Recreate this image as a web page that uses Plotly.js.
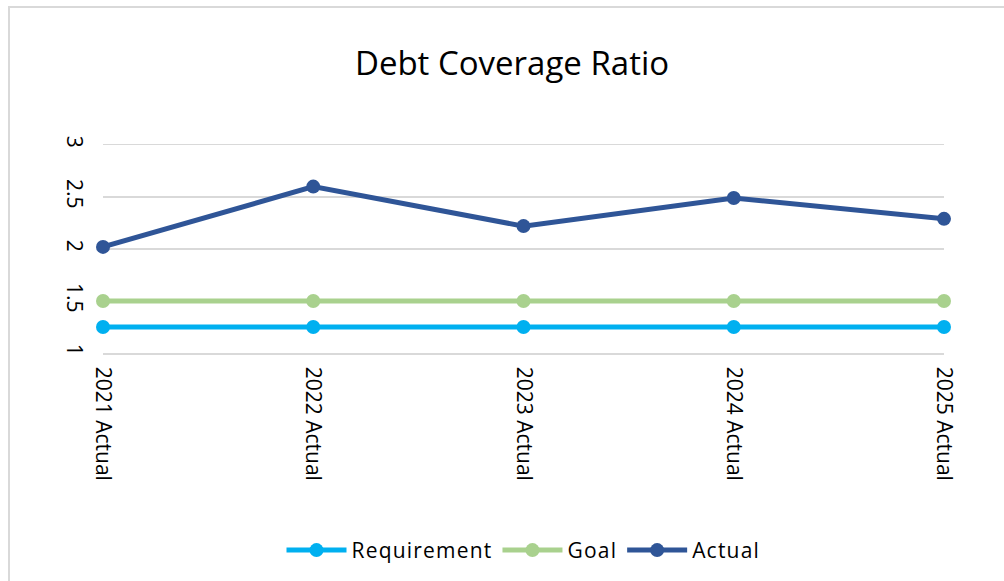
<!DOCTYPE html>
<html>
<head>
<meta charset="utf-8">
<script src="https://cdn.plot.ly/plotly-3.0.1.min.js"></script>
<style>
html,body{margin:0;padding:0;background:#fff;}
#wrap{position:relative;width:1004px;height:581px;overflow:hidden;}
#chart{position:absolute;left:0;top:0;width:1004px;height:581px;}
#frame{position:absolute;left:8px;top:6px;width:1010px;height:600px;border-left:2px solid #d9d9d9;border-top:2px solid #d9d9d9;pointer-events:none;}
.legendtext{letter-spacing:1.2px;}
</style>
</head>
<body>
<div id="wrap"><div id="chart"></div><div id="frame"></div></div>
<script>
var categories = ["2021 Actual", "2022 Actual", "2023 Actual", "2024 Actual", "2025 Actual"];
var requirement = [1.25, 1.25, 1.25, 1.25, 1.25];
var goal = [1.5, 1.5, 1.5, 1.5, 1.5];
var actual = [2.02, 2.6, 2.22, 2.49, 2.29];
var yTicks = [1, 1.5, 2, 2.5, 3];

function tr(name, y, color) {
  return {
    x: categories, y: y, name: name, type: 'scatter', mode: 'lines+markers',
    line: {color: color, width: 5},
    marker: {color: color, size: 14},
    cliponaxis: false
  };
}
var data = [
  tr('Requirement', requirement, '#00B0F0'),
  tr('Goal', goal, '#A9D18E'),
  tr('Actual', actual, '#2F5597')
];
var layout = {
  width: 1004, height: 581,
  margin: {l: 103, r: 60, t: 145, b: 227},
  paper_bgcolor: '#fff', plot_bgcolor: '#fff',
  font: {family: 'Open Sans, sans-serif', color: '#000'},
  title: {text: 'Debt Coverage Ratio', font: {size: 33, color: '#000'}, x: 0.51, xanchor: 'center', y: 0.89, yanchor: 'middle'},
  xaxis: {
    type: 'category', range: [0, 4], tickangle: 90, showgrid: false, zeroline: false,
    showline: true, mirror: true, linecolor: '#d9d9d9', linewidth: 1.5,
    ticks: '', ticklabelstandoff: 8, tickfont: {size: 21, color: '#000'}, fixedrange: true
  },
  yaxis: {
    range: [1, 3], tickvals: yTicks, ticktext: yTicks.map(String), tickangle: 90,
    showgrid: true, gridcolor: '#d9d9d9', gridwidth: 1.5, zeroline: false,
    showline: false, ticks: '', ticklabelstandoff: 14, tickfont: {size: 21, color: '#000'}, fixedrange: true
  },
  showlegend: true,
  legend: {
    orientation: 'h', x: 0.5, xanchor: 'center', y: -0.94, yanchor: 'middle',
    font: {size: 21, color: '#000'}, itemwidth: 60, traceorder: 'normal'
  }
};
Plotly.newPlot('chart', data, layout, {displayModeBar: false, staticPlot: true});
</script>
</body>
</html>
